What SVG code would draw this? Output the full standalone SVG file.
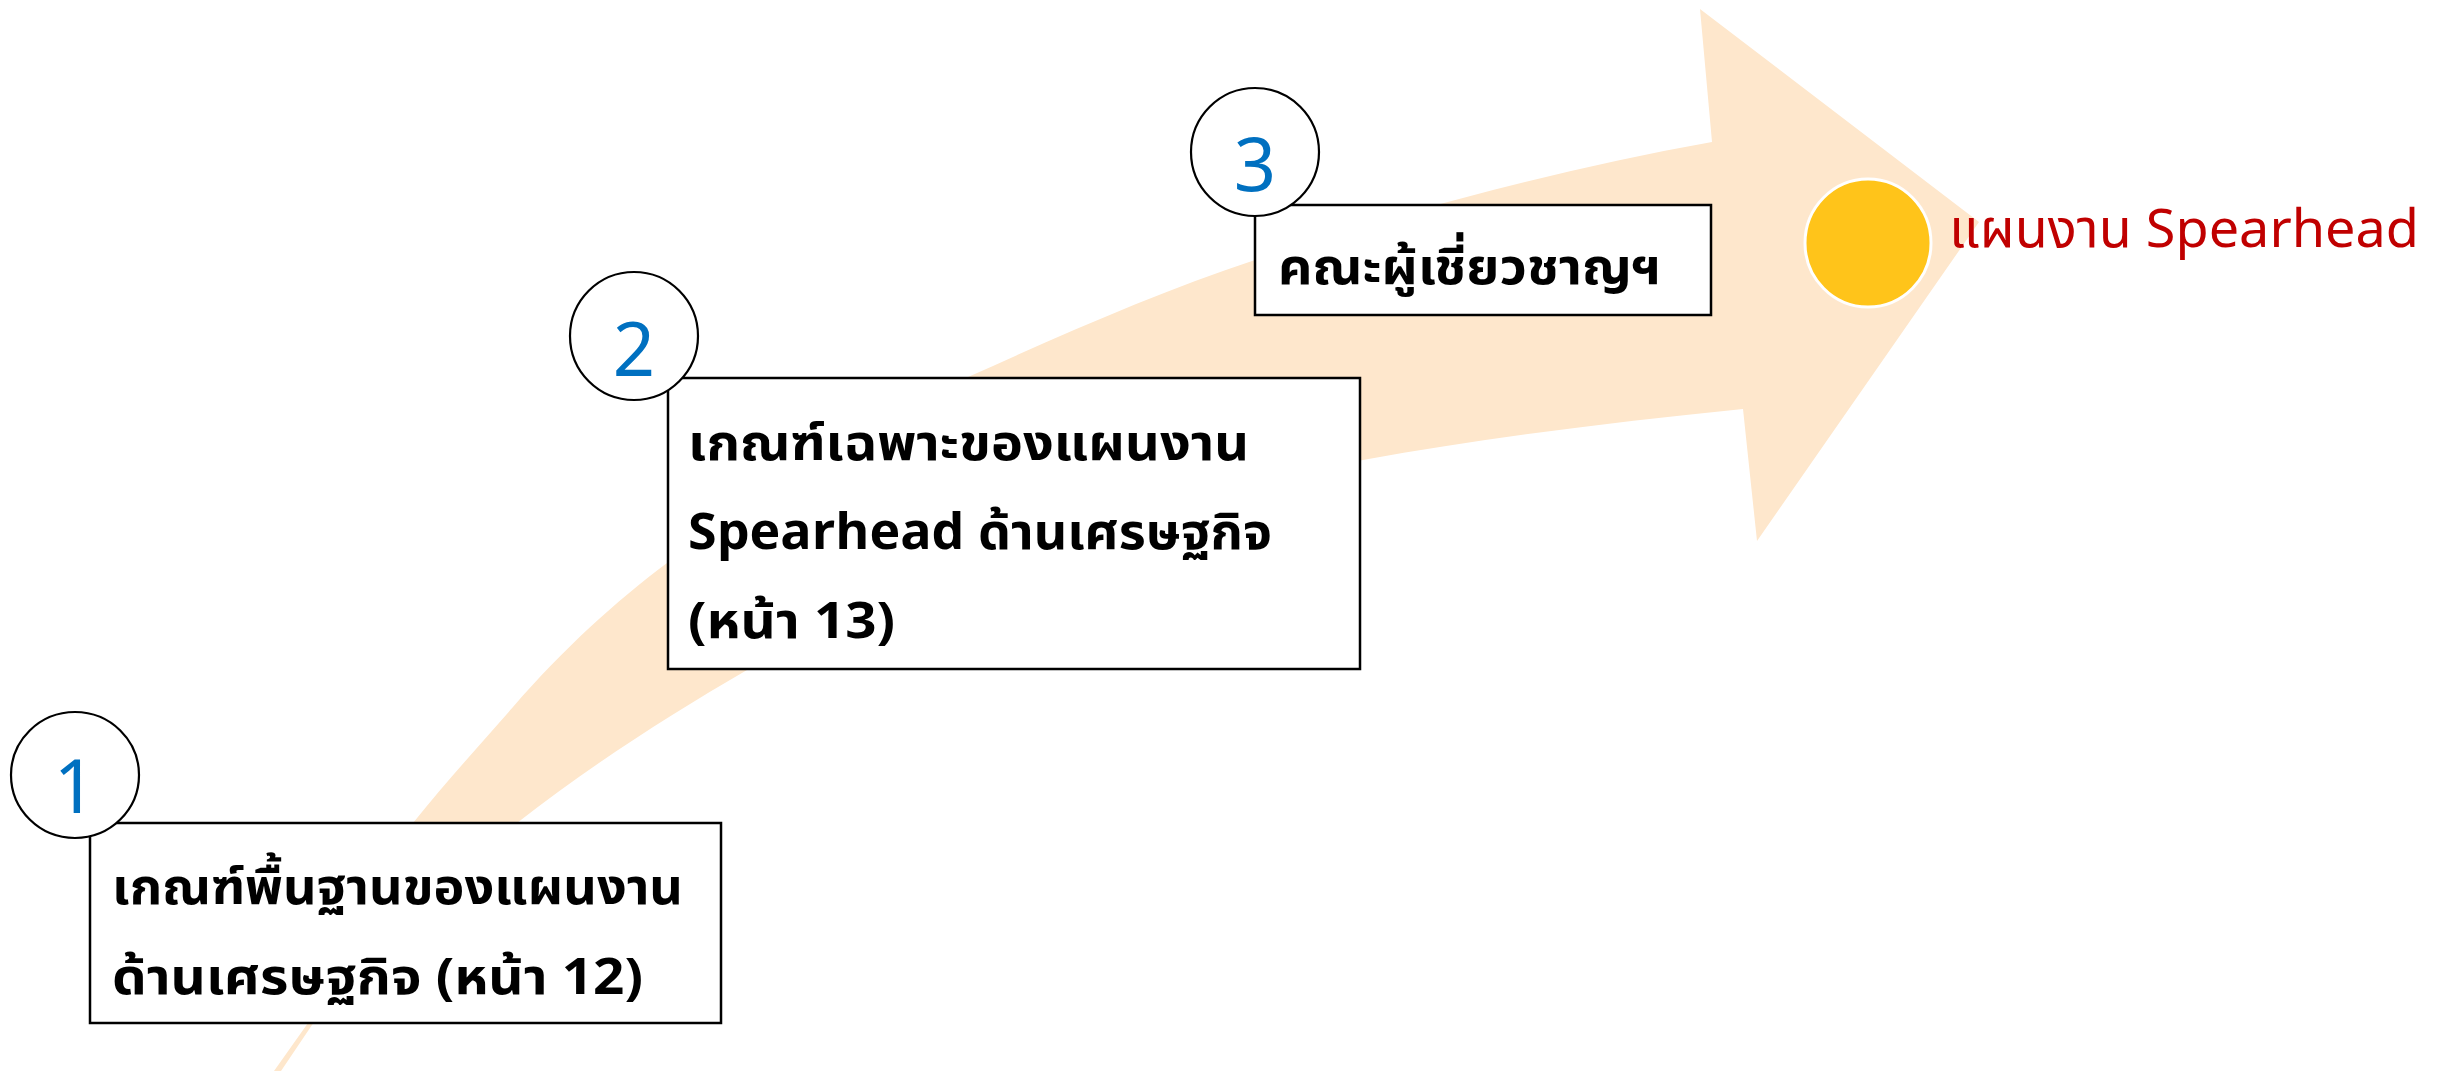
<svg xmlns="http://www.w3.org/2000/svg" width="2448" height="1071" viewBox="0 0 2448 1071">
<style>
.box{fill:#FFFFFF;stroke:#000000;stroke-width:2.5}
.num{fill:#FFFFFF;stroke:#000000;stroke-width:2.2}
.numt{font-family:"Noto Sans","Liberation Sans",sans-serif;font-size:74px;fill:#0070C0;text-anchor:middle}
.lbl{font-family:"Noto Sans Thai","Noto Sans","DejaVu Sans",sans-serif;font-size:50px;font-weight:bold;fill:#000000}
.goal{font-family:"Noto Sans Thai","Noto Sans","DejaVu Sans",sans-serif;font-size:53px;fill:#C00000}
</style>
<rect width="2448" height="1071" fill="#FFFFFF"/>
<g id="connectors">
<path id="arrow" fill="#FEE7CC" d="M274,1071 L308,1023 L413,823 C446.3,781.3 479.7,745.3 513,707 C564.3,648 615.7,601.5 667,563 C767.3,487.7 867.7,422.2 968,377 C1063.7,334 1159.3,291.6 1255,260 C1407.3,209.7 1559.7,169.4 1712,142 L1700,9 L1979,222 L1757,541 L1743,409 C1616.3,421.7 1489.7,437.2 1363,460 C1157.7,497 952.3,550.9 747,670 C670.3,714.5 593.7,763.2 517,823 C448.7,876.3 380.3,943 312,1025 L281,1071 Z"/>
</g>
<g id="goal">
<ellipse cx="1868" cy="243" rx="63" ry="64" fill="#FFC41A" stroke="#FFFFFF" stroke-width="3"/>
<text class="goal" x="1949" y="247" textLength="470" lengthAdjust="spacingAndGlyphs">แผนงาน Spearhead</text>
</g>
<g id="step1">
<rect class="box" x="90" y="823" width="631" height="200"/>
<text class="lbl" x="112" y="904" textLength="571" lengthAdjust="spacingAndGlyphs">เกณฑ์พื้นฐานของแผนงาน</text>
<text class="lbl" x="112" y="994" textLength="531" lengthAdjust="spacingAndGlyphs">ด้านเศรษฐกิจ (หน้า 12)</text>
<ellipse class="num" cx="75" cy="775" rx="64" ry="63"/>
<text class="numt" x="75" y="813">1</text>
</g>
<g id="step2">
<rect class="box" x="668" y="378" width="692" height="291"/>
<text class="lbl" x="688" y="460" textLength="561" lengthAdjust="spacingAndGlyphs">เกณฑ์เฉพาะของแผนงาน</text>
<text class="lbl" x="688" y="549" textLength="584" lengthAdjust="spacingAndGlyphs">Spearhead ด้านเศรษฐกิจ</text>
<text class="lbl" x="688" y="638" textLength="207" lengthAdjust="spacingAndGlyphs">(หน้า 13)</text>
<ellipse class="num" cx="634" cy="336" rx="64" ry="64"/>
<text class="numt" x="634" y="376">2</text>
</g>
<g id="step3">
<rect class="box" x="1255" y="205" width="456" height="110"/>
<text class="lbl" x="1278" y="284" textLength="383" lengthAdjust="spacingAndGlyphs">คณะผู้เชี่ยวชาญฯ</text>
<ellipse class="num" cx="1255" cy="152" rx="64" ry="64"/>
<text class="numt" x="1255" y="191">3</text>
</g>
</svg>
